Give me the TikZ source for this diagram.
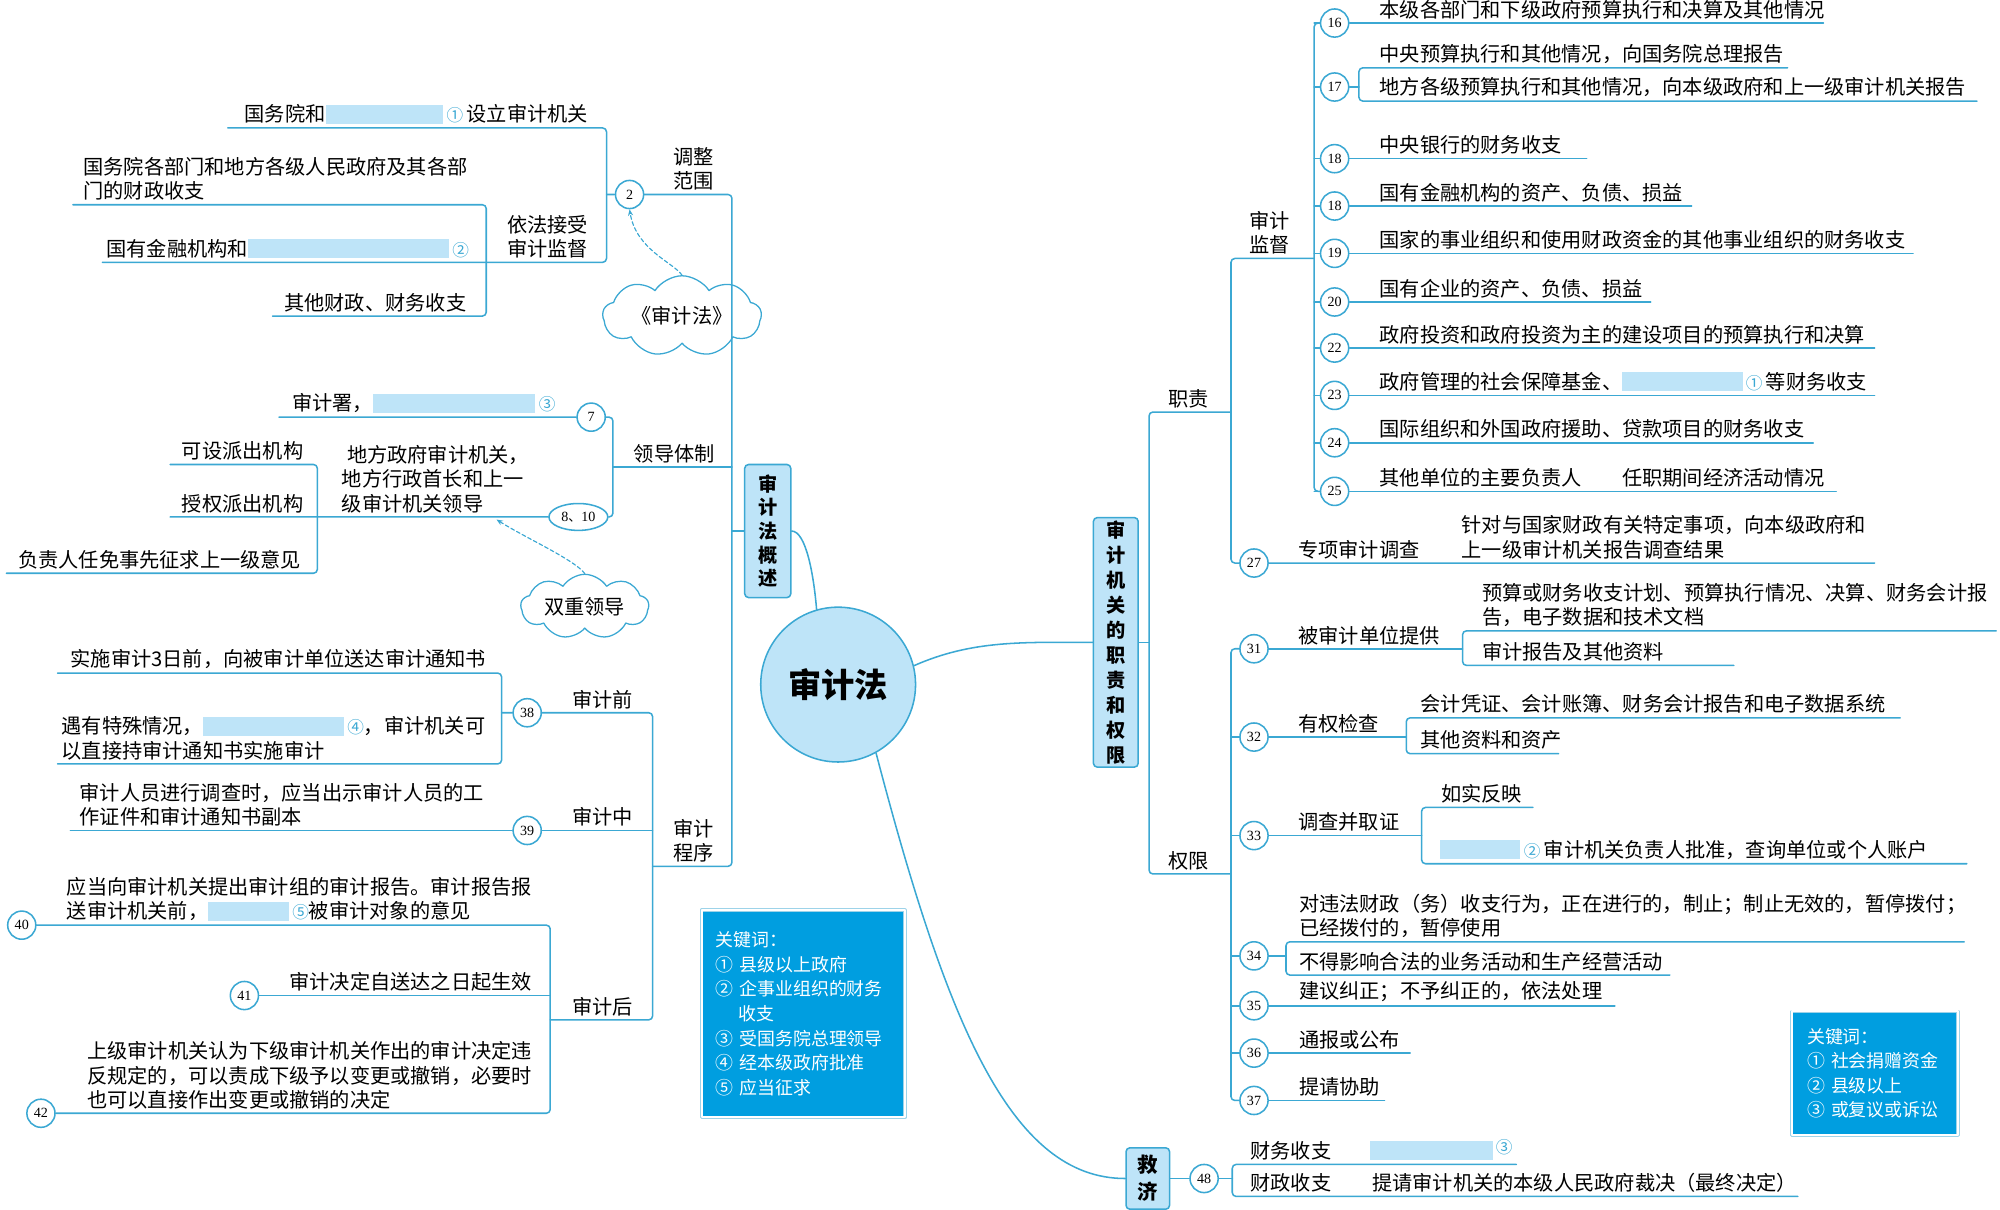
\documentclass[tikz,border=0pt]{standalone}
\usepackage{fontspec}
\setmainfont{Noto Sans CJK SC}
\newfontfamily\numfont{Liberation Serif}
\usetikzlibrary{shapes.symbols,shapes.geometric,arrows.meta}
\definecolor{lc}{RGB}{59,168,211}
\definecolor{lb}{RGB}{190,228,248}
\definecolor{kb}{RGB}{0,158,224}
\newcommand\fillin[1]{\textcolor{lb}{\rule[-1.5pt]{#1pt}{15pt}}}
\newcommand\mk[1]{\textcolor{lc}{\fontsize{13}{13}\selectfont#1}}
\tikzset{
  ln/.style={draw=lc,line width=1.2pt,rounded corners=3pt},
  num/.style={circle,draw=lc,line width=1.2pt,fill=white,inner sep=0pt,minimum size=22pt,font=\numfont\fontsize{11}{11}\selectfont},
  txt/.style={anchor=south west,inner sep=0pt,align=left,font=\fontsize{15.8}{19}\selectfont},
  lab/.style={anchor=south,inner sep=0pt,align=center,font=\fontsize{15.8}{19}\selectfont},
  vbox/.style={draw=lc,fill=lb,line width=1.2pt,rounded corners=3pt,inner sep=0pt,align=center,font=\bfseries\fontsize{15}{19.5}\selectfont},
  root/.style={circle,draw=lc,fill=lb,line width=1.2pt,minimum size=121pt,inner sep=0pt,font=\bfseries\fontsize{26}{26}\selectfont},
  kw/.style={anchor=north west,fill=kb,draw=lc!50,double=white,double distance=1.6pt,line width=0.5pt,text=white,align=left,inner xsep=11pt,inner ysep=0pt,font=\fontsize{14}{19.2}\selectfont},
  bubble/.style={cloud,cloud puffs=9,cloud puff arc=115,aspect=2.5,draw=lc,line width=1pt,inner sep=0pt,minimum width=124pt,minimum height=50pt,font=\fontsize{15.8}{19}\selectfont},
  hint/.style={draw=lc,line width=0.9pt,dash pattern=on 3pt off 2pt,-{Stealth[length=5pt,width=4pt]}},
}
\begin{document}
\begin{tikzpicture}[x=1pt,y=-1pt,line join=round,line cap=round]
\useasboundingbox (0,0) rectangle (1563,945);
\path (178,100) coordinate (a1) (474,100) coordinate (a2) (474,205) coordinate (a3)
  (80,205) coordinate (a4) (474,152) coordinate (a5)
  (57,160) coordinate (b1) (380,160) coordinate (b2) (380,247) coordinate (b3) (213,247) coordinate (b4)
  (572,152) coordinate (t1) (572,677) coordinate (t2) (510,677) coordinate (t3)
  (572,415) coordinate (t4) (572,365) coordinate (t5) (479,365) coordinate (t6)
  (479,326) coordinate (c1) (479,404) coordinate (c2) (218,326) coordinate (c3) (133,404) coordinate (c4)
  (133,363) coordinate (d1) (248,363) coordinate (d2) (248,448) coordinate (d3) (5,448) coordinate (d4)
  (510,557) coordinate (p1) (510,797) coordinate (p2) (430,797) coordinate (p3) (510,649) coordinate (p4)
  (45,526) coordinate (q1) (392,526) coordinate (q2) (392,597) coordinate (q3) (45,597) coordinate (q4)
  (392,557) coordinate (q5) (55,649) coordinate (q6)
  (430,723) coordinate (r1) (430,870) coordinate (r2) (430,778) coordinate (r3)
  (388,406) coordinate (h2);
\path (898,322) coordinate (u1) (962,322) coordinate (u2) (898,683) coordinate (u3)
  (962,683) coordinate (u4) (898,502) coordinate (u5)
  (1027,202) coordinate (v1) (962,202) coordinate (v2)
  (1027,68) coordinate (l0) (1062,68) coordinate (l5) (1062,53) coordinate (l1) (1397,53) coordinate (l3)
  (1062,79) coordinate (l2) (1545,79) coordinate (l4)
  (1465,440) coordinate (g27)
  (1143,507) coordinate (g31) (1143,493) coordinate (g31a) (1560,493) coordinate (g31b)
  (1143,520) coordinate (g31c) (1355,520) coordinate (g31d)
  (1099,576) coordinate (g32) (1099,561) coordinate (g32a) (1485,561) coordinate (g32b)
  (1099,589) coordinate (g32c) (1218,589) coordinate (g32d)
  (1111,653) coordinate (g33) (1111,631) coordinate (g33a) (1198,631) coordinate (g33b)
  (1111,675) coordinate (g33c) (1537,675) coordinate (g33d)
  (1005,747) coordinate (g34) (1005,736) coordinate (g34a) (1535,736) coordinate (g34b)
  (1005,762) coordinate (g34c) (1305,762) coordinate (g34d)
  (963,921) coordinate (h48) (963,910) coordinate (h48a) (1185,910) coordinate (h48b)
  (963,935) coordinate (h48c) (1405,935) coordinate (h48d);

\node[root] (rt) at (655,535) {审计法};
\node[vbox,minimum width=36pt,minimum height=104pt,font=\bfseries\fontsize{15}{18.5}\selectfont] (gs) at (600,415) {审\\计\\法\\概\\述};
\node[vbox,minimum width=35pt,minimum height=195pt] (zz) at (872,502) {审\\计\\机\\关\\的\\职\\责\\和\\权\\限};
\node[vbox,minimum width=34pt,minimum height=48pt,font=\bfseries\fontsize{16}{21}\selectfont] (jj) at (897,921) {救\\济};
\draw[ln] (gs.east) .. controls (630,415) and (636,450) .. (rt.106);
\draw[ln] (rt.14) .. controls (760,500) and (800,502) .. (zz.west);
\draw[ln] (rt.-61) .. controls (740,800) and (790,921) .. (jj.west);

\node[num] (n2) at (492,152) {2};
\node[num] (n7) at (462,326) {7};
\node[num,ellipse,minimum width=46pt,minimum height=21pt] (n810) at (452,404) {8{\rmfamily\fontsize{10}{10}\selectfont 、}10};
\node[num] (n38) at (412,557) {38};
\node[num] (n39) at (412,649) {39};
\node[num] (n40) at (17,723) {40};
\node[num] (n41) at (191,778) {41};
\node[num] (n42) at (32,870) {42};
\draw[ln] (a1) -- (a2) -- (a3) -- (a4);
\draw[ln] (a5) -- (n2) -- (t1) -- (t2) -- (t3);
\draw[ln] (b1) -- (b2) -- (b3) -- (b4);
\draw[ln] (gs) -- (t4);
\draw[ln] (t5) -- (t6);
\draw[ln] (c3) -- (n7) -- (c1) -- (c2) -- (n810) -- (c4);
\draw[ln] (d1) -- (d2) -- (d3) -- (d4);
\draw[ln] (q1) -- (q2) -- (q3) -- (q4);
\draw[ln] (q5) -- (n38) -- (p1) -- (p2) -- (p3);
\draw[ln] (q6) -- (n39) -- (p4);
\draw[ln] (n40) -- (r1) -- (r2) -- (n42);
\draw[ln] (n41) -- (r3);

\node[txt] (s1) at (191,97) {国务院和\fillin{92}\,\mk{①}\,设立审计机关};
\node[txt] (s2) at (65,157) {国务院各部门和地方各级人民政府及其各部\\门的财政收支};
\node[txt] (s3) at (83,202) {国有金融机构和\fillin{157}\,\mk{②}};
\node[txt] (s4) at (222,244) {其他财政、财务收支};
\node[lab] (s5) at (428,202) {依法接受\\审计监督};
\node[lab] (s6) at (542,149) {调整\\范围};
\node[bubble] (y1) at (533,247) {《审计法》};
\draw[hint] (y1.north) .. controls (526,205) and (497,195) .. (n2.south);
\node[txt] (s7) at (228,323) {审计署，\fillin{127}\,\mk{③}};
\node[lab] (s8) at (527,362) {领导体制};
\node[txt] (s9) at (267,401) {\hspace{4pt}地方政府审计机关，\\地方行政首长和上一\\级审计机关领导};
\node[txt] (s10) at (142,360) {可设派出机构};
\node[txt] (s11) at (142,401) {授权派出机构};
\node[txt] (s12) at (14,445) {负责人任免事先征求上一级意见};
\node[bubble,minimum width=100pt,minimum height=40pt] (y2) at (457,474) {双重领导};
\draw[hint] (y2.north) .. controls (450,438) and (410,420) .. (h2);
\node[lab] (s13) at (542,674) {审计\\程序};
\node[lab] (s14) at (471,554) {审计前};
\node[lab] (s15) at (471,646) {审计中};
\node[lab] (s16) at (471,794) {审计后};
\node[txt] (s17) at (55,523) {实施审计3日前，向被审计单位送达审计通知书};
\node[txt] (s18) at (48,594) {遇有特殊情况，\fillin{110}\,\mk{④}，审计机关可\\以直接持审计通知书实施审计};
\node[txt] (s19) at (62,646) {审计人员进行调查时，应当出示审计人员的工\\作证件和审计通知书副本};
\node[txt] (s20) at (52,720) {应当向审计机关提出审计组的审计报告。审计报告报\\送审计机关前，\fillin{63}\,\mk{⑤}被审计对象的意见};
\node[txt] (s21) at (226,775) {审计决定自送达之日起生效};
\node[txt] (s22) at (68,867) {上级审计机关认为下级审计机关作出的审计决定违\\反规定的，可以责成下级予以变更或撤销，必要时\\也可以直接作出变更或撤销的决定};
\node[kw,text width=137pt,minimum height=162pt] (kw1) at (548,711) {关键词：\\① 县级以上政府\\② 企事业组织的财务\\\hspace*{1.3em}收支\\③ 受国务院总理领导\\④ 经本级政府批准\\⑤ 应当征求};

\draw[ln] (u2) -- (u1) -- (u3) -- (u4);
\draw[ln] (zz) -- (u5);
\node[lab] (x1) at (929,319) {职责};
\node[lab] (x2) at (929,680) {权限};
\node[lab] (x3) at (992,199) {审计\\监督};
\foreach \i/\n/\y/\e/\t in {
  a/16/18/1425/{本级各部门和下级政府预算执行和决算及其他情况},
  c/18/124/1240/{中央银行的财务收支},
  d/18/161/1322/{国有金融机构的资产、负债、损益},
  e/19/198/1495/{国家的事业组织和使用财政资金的其他事业组织的财务收支},
  f/20/236/1290/{国有企业的资产、负债、损益},
  g/22/272/1465/{政府投资和政府投资为主的建设项目的预算执行和决算},
  h/23/309/1465/{政府管理的社会保障基金、\fillin{94}\,\mk{①}\,等财务收支},
  i/24/346/1417/{国际组织和外国政府援助、贷款项目的财务收支},
  j/25/384/1435/{其他单位的主要负责人\hspace{2em}任职期间经济活动情况}}{
  \node[num] (m\i) at (1043,\y) {\n};
  \coordinate (mb\i) at (1027,\y);
  \coordinate (me\i) at (\e,\y);
  \draw[ln] (mb\i) -- (m\i) -- (me\i);
  \node[txt] (mt\i) at (1078,\y-3) {\t};
}
\draw[ln] (ma) -- (mba) -- (mbj) -- (mj);
\node[num] (mb) at (1043,68) {17};
\draw[ln] (l0) -- (mb) -- (l5);
\draw[ln] (l3) -- (l1) -- (l2) -- (l4);
\node[txt] (mtb1) at (1078,50) {中央预算执行和其他情况，向国务院总理报告};
\node[txt] (mtb2) at (1078,76) {地方各级预算执行和其他情况，向本级政府和上一级审计机关报告};

\foreach \n/\y in {27/440,31/507,32/576,33/653,34/747,35/786,36/823,37/860}{
  \node[num] (k\n) at (980,\y) {\n};
  \coordinate (kb\n) at (962,\y);
}
\draw[ln] (v1) -- (v2) -- (kb27) -- (k27) -- (g27);
\draw[ln] (k31) -- (kb31) -- (kb37) -- (k37);
\foreach \n in {32,...,36} \draw[ln] (kb\n) -- (k\n);
\node[lab] (w27) at (1062,437) {专项审计调查};
\node[txt] (z27) at (1142,437) {针对与国家财政有关特定事项，向本级政府和\\上一级审计机关报告调查结果};
\draw[ln] (k31) -- (g31);
\draw[ln] (g31b) -- (g31a) -- (g31c) -- (g31d);
\node[lab] (w31) at (1070,504) {被审计单位提供};
\node[txt] (z31a) at (1158,490) {预算或财务收支计划、预算执行情况、决算、财务会计报\\告，电子数据和技术文档};
\node[txt] (z31b) at (1158,517) {审计报告及其他资料};
\draw[ln] (k32) -- (g32);
\draw[ln] (g32b) -- (g32a) -- (g32c) -- (g32d);
\node[lab] (w32) at (1046,573) {有权检查};
\node[txt] (z32a) at (1110,558) {会计凭证、会计账簿、财务会计报告和电子数据系统};
\node[txt] (z32b) at (1110,586) {其他资料和资产};
\draw[ln] (k33) -- (g33);
\draw[ln] (g33b) -- (g33a) -- (g33c) -- (g33d);
\node[lab] (w33) at (1054,650) {调查并取证};
\node[txt] (z33a) at (1126,628) {如实反映};
\node[txt] (z33b) at (1125,672) {\fillin{63}\,\mk{②}\,审计机关负责人批准，查询单位或个人账户};
\draw[ln] (k34) -- (g34);
\draw[ln] (g34b) -- (g34a) -- (g34c) -- (g34d);
\node[txt] (z34a) at (1015,733) {对违法财政（务）收支行为，正在进行的，制止；制止无效的，暂停拨付；\\已经拨付的，暂停使用};
\node[txt] (z34b) at (1015,759) {不得影响合法的业务活动和生产经营活动};
\foreach \n/\y/\e/\t in {35/786/1262/{建议纠正；不予纠正的，依法处理},36/823/1102/{通报或公布},37/860/1082/{提请协助}}{
  \coordinate (g\n) at (\e,\y);
  \draw[ln] (k\n) -- (g\n);
  \node[txt] (z\n) at (1015,\y-3) {\t};
}
\node[kw,text width=106pt,inner xsep=12pt,minimum height=97pt] (kw2) at (1400,790) {关键词：\\① 社会捐赠资金\\② 县级以上\\③ 或复议或诉讼};

\node[num] (k48) at (941,921) {48};
\draw[ln] (jj) -- (k48) -- (h48);
\draw[ln] (h48b) -- (h48a) -- (h48c) -- (h48d);
\node[txt] (z48a) at (977,907) {财务收支\hspace{30pt}\fillin{96}\,\raisebox{4pt}{\mk{③}}};
\node[txt] (z48b) at (977,932) {财政收支\hspace{32pt}提请审计机关的本级人民政府裁决（最终决定）};
\end{tikzpicture}
\end{document}
